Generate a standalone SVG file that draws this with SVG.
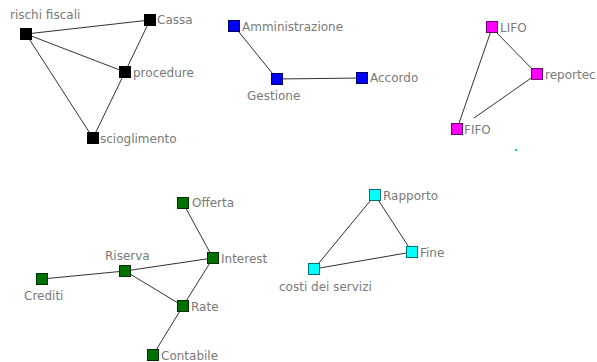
<svg xmlns="http://www.w3.org/2000/svg" width="597" height="362" viewBox="0 0 597 362">
<style>
  .lbl { font-family: "DejaVu Sans", "Liberation Sans", sans-serif; font-size: 12px; fill: #7a7a7a; }
  .edge { stroke: #333; stroke-width: 1; fill: none; }
  .nd { stroke-width: 1; }
  .k { fill: #000; stroke: #000; }
  .b { fill: #0000ff; stroke: #000060; }
  .m { fill: #ff00ff; stroke: #700070; }
  .g { fill: #007000; stroke: #003000; }
  .c { fill: #00ffff; stroke: #007070; }
</style>
<rect width="597" height="362" fill="#fff"/>
<g id="connectors">
  <line class="edge" x1="26" y1="34" x2="150" y2="20"/>
  <line class="edge" x1="26" y1="34" x2="125" y2="72"/>
  <line class="edge" x1="26" y1="34" x2="93" y2="138"/>
  <line class="edge" x1="150" y1="20" x2="125" y2="72"/>
  <line class="edge" x1="125" y1="72" x2="93" y2="138"/>
  <line class="edge" x1="234" y1="26" x2="277" y2="79"/>
  <line class="edge" x1="277" y1="79" x2="362" y2="78"/>
  <line class="edge" x1="492" y1="28" x2="537" y2="74"/>
  <line class="edge" x1="492" y1="28" x2="457" y2="129"/>
  <line class="edge" x1="537" y1="74" x2="474" y2="118"/>
  <line class="edge" x1="183" y1="203" x2="213" y2="258"/>
  <line class="edge" x1="213" y1="258" x2="125" y2="271"/>
  <line class="edge" x1="125" y1="271" x2="42" y2="279"/>
  <line class="edge" x1="125" y1="271" x2="183" y2="306"/>
  <line class="edge" x1="213" y1="258" x2="183" y2="306"/>
  <line class="edge" x1="183" y1="306" x2="153" y2="355"/>
  <line class="edge" x1="375" y1="195" x2="412" y2="252"/>
  <line class="edge" x1="375" y1="195" x2="314" y2="269"/>
  <line class="edge" x1="412" y1="252" x2="314" y2="269"/>
</g>
<g id="n-rischi"><rect class="nd k" x="20.5" y="28.5" width="11" height="11"/><text class="lbl" x="10" y="19">rischi fiscali</text></g>
<g id="n-cassa"><rect class="nd k" x="144.5" y="14.5" width="11" height="11"/><text class="lbl" x="157" y="24">Cassa</text></g>
<g id="n-procedure"><rect class="nd k" x="119.5" y="66.5" width="11" height="11"/><text class="lbl" x="133" y="77">procedure</text></g>
<g id="n-scioglimento"><rect class="nd k" x="87.5" y="132.5" width="11" height="11"/><text class="lbl" x="100" y="143">scioglimento</text></g>
<g id="n-amministrazione"><rect class="nd b" x="228.5" y="20.5" width="11" height="11"/><text class="lbl" x="242" y="31">Amministrazione</text></g>
<g id="n-gestione"><rect class="nd b" x="271.5" y="73.5" width="11" height="11"/><text class="lbl" x="247" y="100">Gestione</text></g>
<g id="n-accordo"><rect class="nd b" x="356.5" y="72.5" width="11" height="11"/><text class="lbl" x="370" y="82">Accordo</text></g>
<g id="n-lifo"><rect class="nd m" x="486.5" y="21.5" width="11" height="11"/><text class="lbl" x="500" y="32">LIFO</text></g>
<g id="n-reportec"><rect class="nd m" x="531.5" y="68.5" width="11" height="11"/><text class="lbl" x="545" y="79">reportec</text></g>
<g id="n-fifo"><rect class="nd m" x="451.5" y="123.5" width="11" height="11"/><text class="lbl" x="464" y="134">FIFO</text></g>
<rect x="515" y="149" width="2" height="2" fill="#00e0e0"/>
<g id="n-offerta"><rect class="nd g" x="177.5" y="197.5" width="11" height="11"/><text class="lbl" x="192" y="207">Offerta</text></g>
<g id="n-interest"><rect class="nd g" x="207.5" y="252.5" width="11" height="11"/><text class="lbl" x="221" y="263">Interest</text></g>
<g id="n-riserva"><rect class="nd g" x="119.5" y="265.5" width="11" height="11"/><text class="lbl" x="105" y="260">Riserva</text></g>
<g id="n-crediti"><rect class="nd g" x="36.5" y="273.5" width="11" height="11"/><text class="lbl" x="24" y="300">Crediti</text></g>
<g id="n-rate"><rect class="nd g" x="177.5" y="300.5" width="11" height="11"/><text class="lbl" x="191" y="311">Rate</text></g>
<g id="n-contabile"><rect class="nd g" x="147.5" y="349.5" width="11" height="11"/><text class="lbl" x="161" y="360">Contabile</text></g>
<g id="n-rapporto"><rect class="nd c" x="369.5" y="189.5" width="11" height="11"/><text class="lbl" x="383" y="200">Rapporto</text></g>
<g id="n-fine"><rect class="nd c" x="406.5" y="246.5" width="11" height="11"/><text class="lbl" x="420" y="257">Fine</text></g>
<g id="n-costi"><rect class="nd c" x="308.5" y="263.5" width="11" height="11"/><text class="lbl" x="279" y="291">costi dei servizi</text></g>
</svg>
